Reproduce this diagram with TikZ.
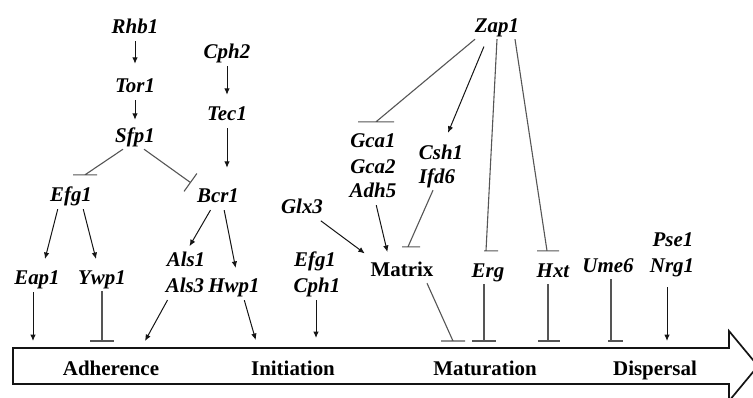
\documentclass[tikz,border=0pt]{standalone}
\usepackage{fontspec}
\setmainfont{Liberation Serif}
\usepackage{tikz}
\usetikzlibrary{arrows.meta,positioning,calc}
\definecolor{ink}{HTML}{141414}
\definecolor{inhgray}{HTML}{555555}
\tikzset{
  gene/.style={
    font=\fontsize{21}{24}\selectfont\bfseries\itshape,
    text height=14bp, text depth=4bp,
    inner xsep=1bp, inner ysep=3bp, anchor=base
  },
  upright/.style={
    font=\fontsize{21}{24}\selectfont\bfseries
  },
  phase/.style={
    font=\fontsize{21}{24}\selectfont\bfseries,
    inner sep=0pt, anchor=base
  },
  actarrow/.style={
    -{Latex[length=6.5bp,width=5.5bp]}, line width=1bp, draw=ink,
    shorten <=1bp, shorten >=8bp
  },
  inhline/.style={
    line width=1.1bp, draw=#1
  },
  inhline/.default=inhgray,
  bandbody/.style={
    rectangle, minimum width=716bp, minimum height=36bp,
    inner sep=0pt, outer sep=0pt
  },
  bandline/.style={
    line width=1.7bp, draw=ink, line join=miter
  },
}

\begin{document}
\begin{tikzpicture}[x=1bp, y=1bp]
  \useasboundingbox (0,0) rectangle (753,-397);
  \clip (0,0) rectangle (753,-397);

  \node[gene] (rhb1) at (135,-33) {Rhb1};
  \node[gene] (tor1) at (135,-92) {Tor1};
  \node[gene] (sfp1) at (135,-142) {Sfp1};
  \node[gene] (cph2) at (227,-58) {Cph2};
  \node[gene] (tec1) at (227,-120) {Tec1};
  \node[gene] (efg1) at (71,-201) {Efg1};
  \node[gene] (bcr1) at (218,-202) {Bcr1};
  \node[gene] (eap1) at (37,-284) {Eap1};
  \node[gene] (ywp1) at (102,-284) {Ywp1};
  \node[gene] (als1) at (186,-266) {Als1};
  \node[gene] (als3) at (185,-292) {Als3};
  \node[gene] (hwp1) at (234,-292) {Hwp1};
  \node[gene] (efg1b) at (315,-266) {Efg1};
  \node[gene] (cph1) at (317,-292) {Cph1};
  \node[gene] (glx3) at (302,-213) {Glx3};
  \node[gene] (gca1) at (373,-147) {Gca1};
  \node[gene] (gca2) at (373,-173) {Gca2};
  \node[gene] (adh5) at (373,-197) {Adh5};
  \node[gene] (csh1) at (441,-159) {Csh1};
  \node[gene] (ifd6) at (437,-183) {Ifd6};
  \node[gene, upright] (matrix) at (402,-276) {Matrix};
  \node[gene] (zap1) at (497,-32) {Zap1};
  \node[gene] (erg) at (488,-277) {Erg};
  \node[gene] (hxt) at (553,-277) {Hxt};
  \node[gene] (ume6) at (608,-272) {Ume6};
  \node[gene] (pse1) at (673,-246) {Pse1};
  \node[gene] (nrg1) at (672,-272) {Nrg1};

  \node[bandbody] (band) at (371,-366) {};
  \draw[bandline] (band.north east) -- ++(0,17bp) -- ([xshift=29bp]band.east)
    -- ([yshift=-17bp]band.south east) -- (band.south east)
    -- (band.south west) -- (band.north west) -- cycle;
  \coordinate (stop) at ([yshift=7bp]band.north);
  \node[phase] (adherence) at (111,-375) {Adherence};
  \node[phase] (initiation) at (293,-375) {Initiation};
  \node[phase] (maturation) at (485,-375) {Maturation};
  \node[phase] (dispersal) at (655,-375) {Dispersal};

  \draw[actarrow, shorten >=11bp] (rhb1) -- (tor1);
  \draw[actarrow, shorten >=5bp] (tor1) -- (sfp1);
  \draw[actarrow] (cph2) -- (tec1);
  \draw[actarrow, shorten >=17bp] (tec1) -- (tec1 |- bcr1.north);
  \draw[inhline] ([xshift=-12bp]sfp1.south) -- ([shift={(14bp,9bp)}]efg1.north)
    ++(-12bp,0) -- ++(24bp,0);
  \draw[inhline, -{Bar[width=22bp]}] ([xshift=9bp]sfp1.south)
    -- ([shift={(-5bp,2bp)}]bcr1.north west);

  \draw[actarrow] ([xshift=-13bp]efg1.south) -- ([xshift=6bp]eap1.north);
  \draw[actarrow] ([xshift=12bp]efg1.south) -- ([xshift=-4bp]ywp1.north);
  \draw[actarrow, shorten >=3bp] ([xshift=-7bp]bcr1.south) -- ([xshift=2bp]als1.north);
  \draw[actarrow, shorten >=7bp] ([xshift=6bp]bcr1.south) -- ([xshift=3bp]hwp1.north);

  \draw[actarrow, shorten >=0pt] ([xshift=-4bp]eap1.south) -- ([xshift=-4bp]eap1.south |- stop);
  \draw[inhline] (ywp1.south) -- (ywp1.south |- stop) ++(-12bp,0) -- ++(24bp,0);
  \draw[actarrow, shorten >=0pt] ([xshift=-17bp]als3.south) -- ([xshift=-40bp]als3.south |- stop);
  \draw[actarrow, shorten >=1bp] ([xshift=10bp]hwp1.south) -- ([xshift=22bp]hwp1.south |- stop);
  \draw[actarrow, shorten >=3bp] ([xshift=-1bp]cph1.south) -- ([xshift=-1bp]cph1.south |- stop);

  \draw[actarrow, shorten >=9bp] ([xshift=18bp]glx3.south) -- ([xshift=-30bp]matrix.north);
  \draw[actarrow, shorten >=7bp] ([xshift=3bp]adh5.south) -- ([xshift=-13bp]matrix.north);
  \draw[inhline, shorten <=6bp] ([xshift=-4bp]ifd6.south) -- ([shift={(6bp,12bp)}]matrix.north)
    ++(-12bp,0) -- ++(24bp,0);
  \draw[inhline] ([xshift=25bp]matrix.south) -- ([xshift=51bp]matrix.south |- stop)
    ++(-12bp,0) -- ++(24bp,0);
  \draw[inhline] ([xshift=-4bp]erg.south) -- ([xshift=-4bp]erg.south |- stop)
    ++(-12bp,0) -- ++(24bp,0);

  \draw[inhline] ([xshift=-22bp]zap1.south) -- ([shift={(3bp,8bp)}]gca1.north)
    ++(-18bp,0) -- ++(36bp,0);
  \draw[actarrow, shorten <=8bp, shorten >=0pt] ([xshift=-10bp]zap1.south)
    -- ([shift={(7bp,9bp)}]csh1.north);
  \draw[inhline, shorten <=10bp] (zap1.south) -- ([shift={(-2bp,9bp)}]erg.north)
    ++(-12bp,0) -- ++(24bp,0);
  \draw[inhline, shorten <=2bp] ([xshift=18bp]zap1.south) -- ([shift={(-6bp,9bp)}]hxt.north)
    ++(-12bp,0) -- ++(24bp,0);
  \draw[inhline, shorten <=2bp] ([xshift=-5bp]hxt.south) -- ([xshift=-5bp]hxt.south |- stop)
    ++(-12bp,0) -- ++(24bp,0);
  \draw[inhline, shorten <=9bp] ([xshift=3bp]ume6.south) -- ([xshift=3bp]ume6.south |- stop)
    ++(-12bp,0) -- ++(24bp,0);
  \draw[actarrow, shorten <=8bp, shorten >=0pt] ([xshift=-5bp]nrg1.south) -- ([xshift=-5bp]nrg1.south |- stop);
\end{tikzpicture}
\end{document}
